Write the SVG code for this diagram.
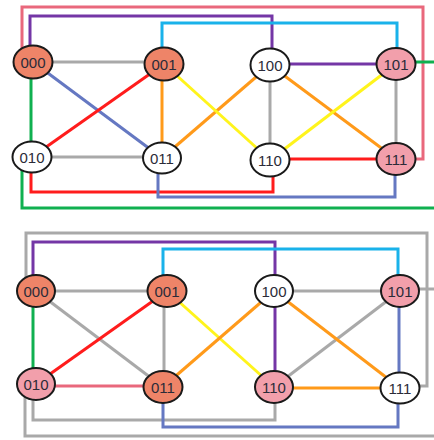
<svg xmlns="http://www.w3.org/2000/svg" width="434" height="440" viewBox="0 0 434 440">
  <style>
    .e { fill: none; stroke-width: 3; stroke-linejoin: miter; stroke-linecap: butt; }
    .gray { stroke: #A9A9A9; }
    .blue { stroke: #6578C2; }
    .red { stroke: #FF1C1C; }
    .orange { stroke: #FF9A1A; }
    .yellow { stroke: #FFF41C; }
    .purple { stroke: #7436A6; }
    .cyan { stroke: #19B2EA; }
    .green { stroke: #10B050; }
    .pink { stroke: #E9687C; }
    .node ellipse { stroke: #1A1A1A; stroke-width: 2; }
    .salmon ellipse { fill: #EE8468; }
    .rose ellipse { fill: #F29FAB; }
    .white ellipse { fill: #FFFFFF; }
    .node text { font-family: "Liberation Sans", Arial, sans-serif; font-size: 15px; fill: #2B2B38; text-anchor: middle; }
  </style>

  <rect width="434" height="440" fill="#FFFFFF"/>

  <!-- upper cube: connectors -->
  <g id="connectors-top">
    <path class="e pink" d="M22,62 V7 H423 V159 H396"/>
    <path class="e purple" d="M30,62 V16 H272 V65"/>
    <path class="e cyan" d="M162,64 V23 H397 V64"/>
    <path class="e green" d="M22,157 V208 H434"/>
    <path class="e green" d="M396,62 H434"/>
    <path class="e red" d="M31,157 V192 H273 V160"/>
    <path class="e blue" d="M158,158 V197 H395 V159"/>

    <path class="e gray" d="M33,62 H164"/>
    <path class="e gray" d="M32,157 H162"/>
    <path class="e gray" d="M270,65 V160"/>
    <path class="e gray" d="M396,64 V159"/>
    <path class="e green" d="M31,62 V157"/>
    <path class="e blue" d="M33,62 L162,158"/>
    <path class="e red" d="M164,64 L32,157"/>
    <path class="e orange" d="M162,64 V158"/>
    <path class="e orange" d="M162,158 L270,65"/>
    <path class="e orange" d="M270,65 L396,159"/>
    <path class="e yellow" d="M164,64 L270,160"/>
    <path class="e yellow" d="M270,160 L396,64"/>
    <path class="e purple" d="M270,64 H396"/>
    <path class="e red" d="M270,159 H396"/>
  </g>

  <!-- upper cube: nodes -->
  <g id="t000" class="node salmon"><ellipse cx="33" cy="62" rx="19.5" ry="16.5"/><text x="33" y="67.5">000</text></g>
  <g id="t001" class="node salmon"><ellipse cx="164" cy="64" rx="19.5" ry="16.5"/><text x="164" y="69.5">001</text></g>
  <g id="t100" class="node white"><ellipse cx="270" cy="65" rx="19.5" ry="16.5"/><text x="270" y="70.5">100</text></g>
  <g id="t101" class="node rose"><ellipse cx="396" cy="64" rx="19.5" ry="16"/><text x="396" y="69.5">101</text></g>
  <g id="t010" class="node white"><ellipse cx="32" cy="157" rx="19.5" ry="15.5"/><text x="32" y="162.5">010</text></g>
  <g id="t011" class="node white"><ellipse cx="162" cy="158" rx="19" ry="15.5"/><text x="162" y="163.5">011</text></g>
  <g id="t110" class="node white"><ellipse cx="270" cy="160" rx="19.5" ry="16.5"/><text x="270" y="165.5">110</text></g>
  <g id="t111" class="node rose"><ellipse cx="396" cy="159" rx="19.5" ry="16"/><text x="396" y="164.5">111</text></g>

  <!-- lower cube: connectors -->
  <g id="connectors-bottom">
    <path class="e gray" d="M26,291 V233 H427 V386 H400"/>
    <path class="e gray" d="M25,384 V436 H434"/>
    <path class="e gray" d="M400,289 H434"/>
    <path class="e gray" d="M33,384 V420 H275 V387"/>
    <path class="e purple" d="M33,291 V242 H275 V291"/>
    <path class="e cyan" d="M163,291 V249 H398 V291"/>
    <path class="e blue" d="M163,387 V427 H398 V388"/>

    <path class="e gray" d="M36,291 H167"/>
    <path class="e gray" d="M36,291 L163,387"/>
    <path class="e gray" d="M164,291 V387"/>
    <path class="e gray" d="M274,291 H400"/>
    <path class="e gray" d="M274,387 L400,291"/>
    <path class="e green" d="M33,291 V384"/>
    <path class="e red" d="M167,291 L36,384"/>
    <path class="e pink" d="M36,386 H163"/>
    <path class="e yellow" d="M167,291 L274,387"/>
    <path class="e orange" d="M163,387 L274,291"/>
    <path class="e orange" d="M274,291 L400,388"/>
    <path class="e orange" d="M274,388 H400"/>
    <path class="e purple" d="M275,291 V387"/>
    <path class="e blue" d="M399,291 V388"/>
  </g>

  <!-- lower cube: nodes -->
  <g id="b000" class="node salmon"><ellipse cx="36" cy="291" rx="19" ry="16"/><text x="36" y="296.5">000</text></g>
  <g id="b001" class="node salmon"><ellipse cx="167" cy="291" rx="19.5" ry="16"/><text x="167" y="296.5">001</text></g>
  <g id="b100" class="node white"><ellipse cx="274" cy="291" rx="19" ry="16"/><text x="274" y="296.5">100</text></g>
  <g id="b101" class="node rose"><ellipse cx="400" cy="291" rx="19" ry="16"/><text x="400" y="296.5">101</text></g>
  <g id="b010" class="node rose"><ellipse cx="36" cy="384" rx="19" ry="16"/><text x="36" y="389.5">010</text></g>
  <g id="b011" class="node salmon"><ellipse cx="163" cy="387" rx="19.5" ry="16"/><text x="163" y="392.5">011</text></g>
  <g id="b110" class="node rose"><ellipse cx="274" cy="387" rx="19" ry="16"/><text x="274" y="392.5">110</text></g>
  <g id="b111" class="node white"><ellipse cx="400" cy="388" rx="19.5" ry="15.5"/><text x="400" y="393.5">111</text></g>
</svg>
